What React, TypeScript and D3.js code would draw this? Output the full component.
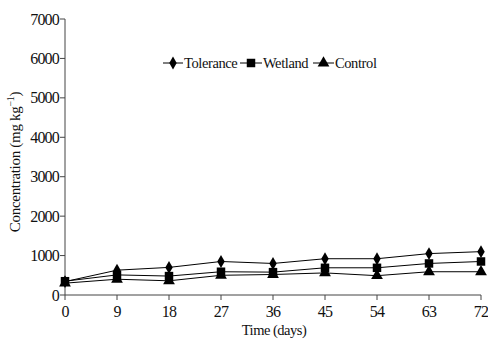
import * as d3 from "d3";

// ── Data ──────────────────────────────────────────────────────
const DAYS = [0, 9, 18, 27, 36, 45, 54, 63, 72];
const TOLERANCE = [340, 630, 700, 850, 800, 920, 920, 1050, 1100];
const WETLAND = [350, 510, 480, 590, 580, 690, 690, 800, 850];
const CONTROL = [300, 400, 360, 500, 520, 560, 490, 590, 590];
const Y_TICKS = [0, 1000, 2000, 3000, 4000, 5000, 6000, 7000];

const W = 488;
const H = 339;
const M = { left: 65, right: 7, top: 19, bottom: 44 };
const FONT = "'Liberation Serif', 'Times New Roman', serif";

type Shape = "diamond" | "square" | "triangle";

function Marker({ shape, x, y }: { shape: Shape; x: number; y: number }) {
  const sym =
    shape === "diamond"
      ? d3.symbol(d3.symbolDiamond, 48)
      : shape === "square"
      ? d3.symbol(d3.symbolSquare, 72)
      : d3.symbol(d3.symbolTriangle, 60);
  return <path d={sym() ?? ""} transform={`translate(${x},${y})`} fill="#000" />;
}

export default function App() {
  const x = d3.scaleLinear().domain([0, 72]).range([M.left, W - M.right]);
  const y = d3.scaleLinear().domain([0, 7000]).range([H - M.bottom, M.top]);
  const line = d3
    .line<number>()
    .x((_d, i) => x(DAYS[i]))
    .y((d) => y(d));

  const series: { name: string; values: number[]; shape: Shape }[] = [
    { name: "Tolerance", values: TOLERANCE, shape: "diamond" },
    { name: "Wetland", values: WETLAND, shape: "square" },
    { name: "Control", values: CONTROL, shape: "triangle" },
  ];

  const axisColor = "#444";
  const y0 = y(0);

  // legend layout (x positions of each item start)
  const legendY = 63;
  const legendItems = [
    { x0: 163, tx: 184 },
    { x0: 240, tx: 263 },
    { x0: 313, tx: 335 },
  ];

  return (
    <svg
      width={W}
      height={H}
      style={{ position: "absolute", left: 0, top: 0, background: "#fff" }}
      fontFamily={FONT}
    >
      {/* axes */}
      <line x1={x(0)} x2={x(0)} y1={y(7000)} y2={y0} stroke={axisColor} strokeWidth={1} />
      <line x1={x(0)} x2={x(72)} y1={y0} y2={y0} stroke={axisColor} strokeWidth={1} />
      {Y_TICKS.map((t) => (
        <g key={t}>
          <line x1={x(0) - 5} x2={x(0)} y1={y(t)} y2={y(t)} stroke={axisColor} />
          <text
            x={x(0) - 6}
            y={y(t)}
            dy="0.35em"
            textAnchor="end"
            fontSize={16}
            letterSpacing={-0.8}
            fill="#111"
          >
            {t}
          </text>
        </g>
      ))}
      {DAYS.map((d) => (
        <g key={d}>
          <line x1={x(d)} x2={x(d)} y1={y0} y2={y0 + 5} stroke={axisColor} />
          <text x={x(d)} y={y0 + 22} textAnchor="middle" fontSize={16} letterSpacing={-0.8} fill="#111">
            {d}
          </text>
        </g>
      ))}

      {/* axis titles */}
      <text x={274} y={335} textAnchor="middle" fontSize={14.5} letterSpacing={-0.5} fill="#111">
        Time (days)
      </text>
      <text
        transform={`translate(20,${162}) rotate(-90)`}
        textAnchor="middle"
        fontSize={15}
        letterSpacing={-0.3}
        fill="#111"
      >
        Concentration (mg kg
        <tspan fontSize={10} dy={-6}>
          −1
        </tspan>
        <tspan dy={6}>)</tspan>
      </text>

      {/* series */}
      {series.map((s) => (
        <g key={s.name}>
          <path d={line(s.values) ?? ""} fill="none" stroke="#000" strokeWidth={1} />
          {s.values.map((v, i) => (
            <Marker key={i} shape={s.shape} x={x(DAYS[i])} y={y(v)} />
          ))}
        </g>
      ))}

      {/* legend */}
      {series.map((s, i) => {
        const it = legendItems[i];
        return (
          <g key={s.name}>
            <line x1={it.x0} x2={it.tx - 1} y1={legendY} y2={legendY} stroke="#000" />
            <Marker shape={s.shape} x={(it.x0 + it.tx - 1) / 2} y={legendY} />
            <text x={it.tx} y={legendY} dy="0.35em" fontSize={14.5} letterSpacing={-0.4} fill="#111">
              {s.name}
            </text>
          </g>
        );
      })}
    </svg>
  );
}
